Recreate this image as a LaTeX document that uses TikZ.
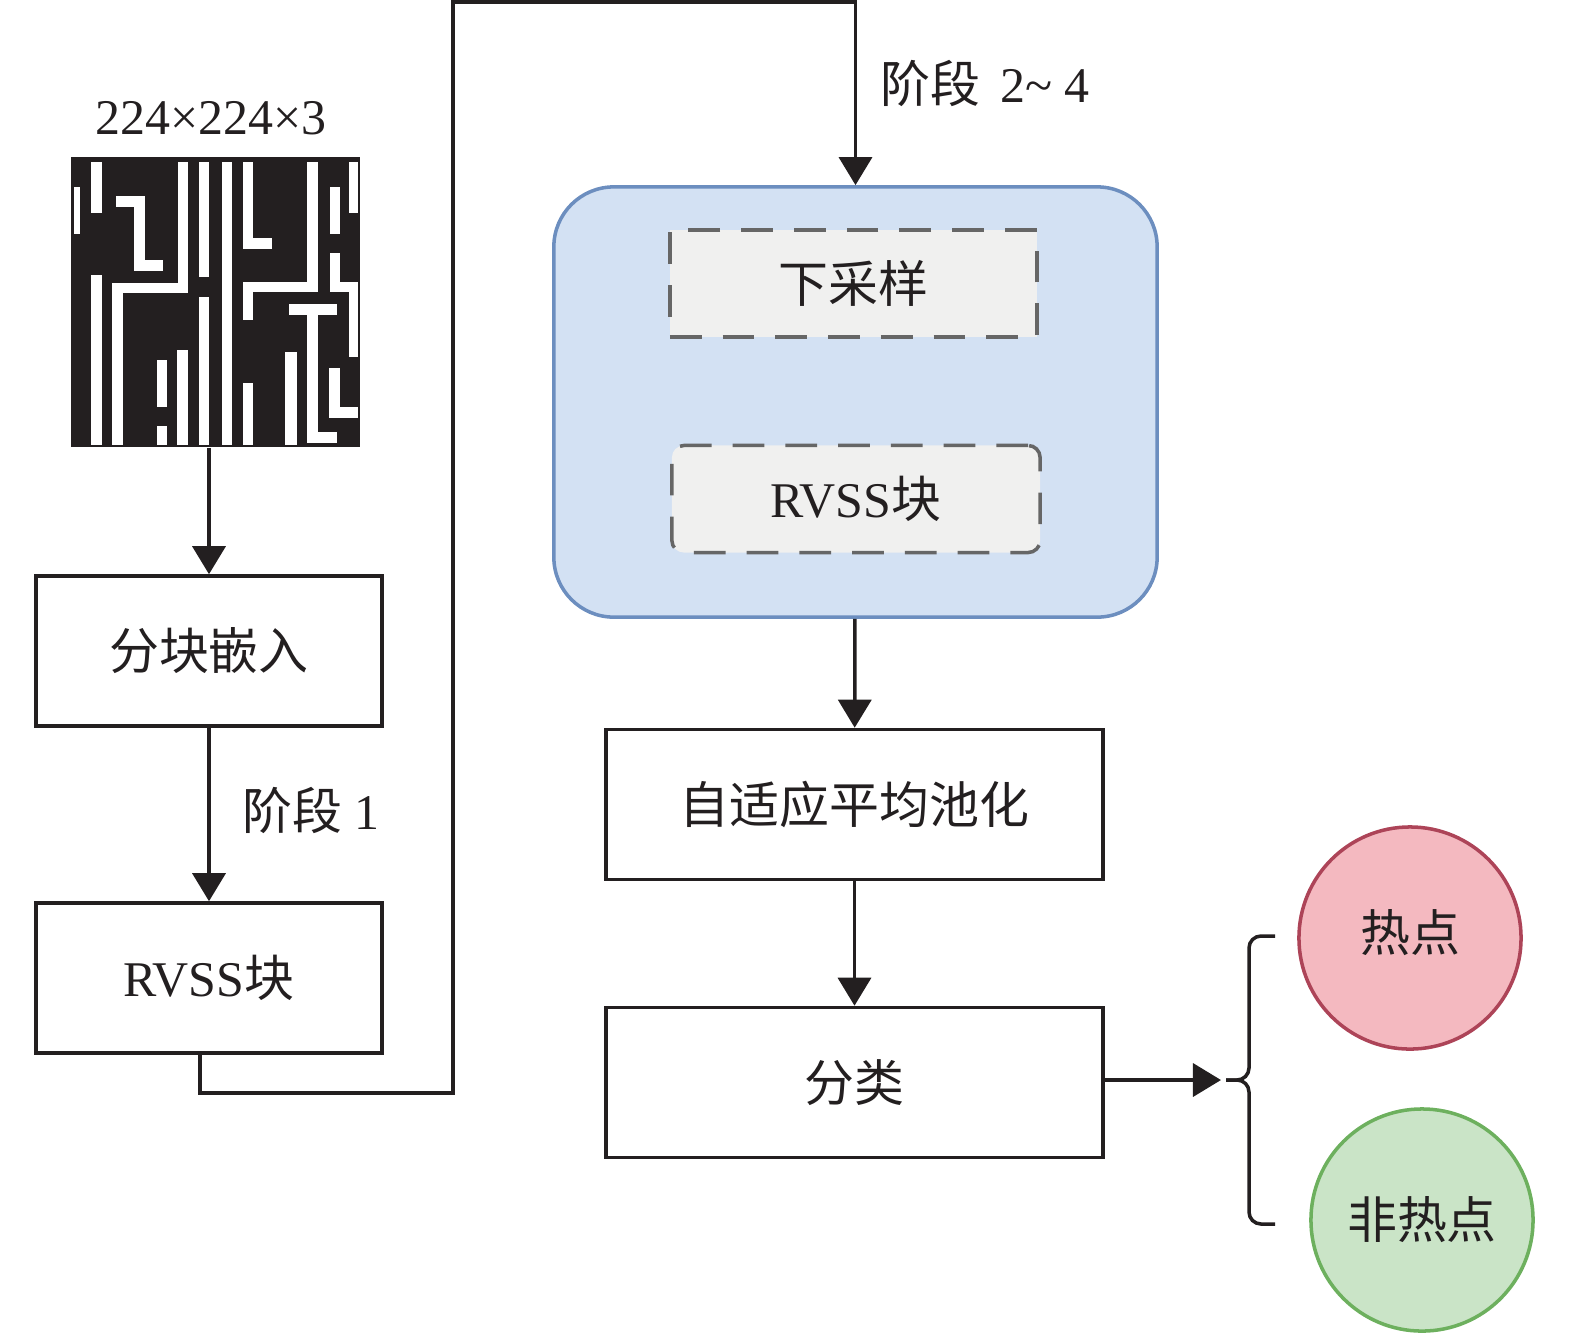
\documentclass[tikz,border=0pt]{standalone}
\usepackage{fontspec}
\setmainfont{Liberation Serif}
\newfontfamily\cjk{Noto Sans CJK SC}
\usepackage{tikz}
\usetikzlibrary{arrows.meta}
\definecolor{ink}{HTML}{231F20}
\definecolor{stagefill}{HTML}{D3E1F3}
\definecolor{stagedraw}{HTML}{6C8EBF}
\definecolor{subfill}{HTML}{F0F0EF}
\definecolor{subdraw}{HTML}{666666}
\definecolor{hotfill}{HTML}{F4B9C0}
\definecolor{hotdraw}{HTML}{AD4458}
\definecolor{coldfill}{HTML}{CAE4C7}
\definecolor{colddraw}{HTML}{6DB05E}
\newcommand{\wire}[4]{ \fill[white] ( #1 , #2 ) rectangle ( #3 , #4 );}
\newcommand{\blockbox}[5]{ \node[shape=rectangle,draw=ink,line width=1pt,fill=white,inner sep=0pt,minimum width=#4,minimum height=1.5cm] (#1) at ( #2 , #3 ) {#5};}
\newcommand{\subbox}[6]{ \node[shape=rectangle,draw=subdraw,fill=subfill,line width=1pt,dash pattern=on 9pt off 6pt,inner sep=0pt,rounded corners=#5,minimum width=#4,minimum height=1.07cm] (#1) at ( #2 , #3 ) {#6};}
\newcommand{\labelnode}[5]{\node[shape=circle,draw=#2,fill=#3,line width=1pt,inner sep=0pt,minimum size=2.22cm] (#1) at #4 {#5};}
\tikzset{link/.style={draw=ink,line width=1pt,-{Triangle[length=0.28cm,width=0.33cm]}}}

\begin{document}
\begin{tikzpicture}[x=0.01cm,y=-0.01cm,font=\fontsize{14.2pt}{17pt}\selectfont,text=ink]
    \useasboundingbox (0,0) rectangle (1575,1338);

    \node[shape=rectangle,fill=ink,inner sep=0pt,minimum width=2.89cm,minimum height=2.90cm] (layout) at (215.5,302) {};
    \wire{74}{187}{80}{234}
    \wire{91}{162}{102}{213}
    \wire{116}{196}{145}{207}
    \wire{134}{196}{145}{271}
    \wire{134}{260}{163}{271}
    \wire{91}{275}{102}{445}
    \wire{178}{162}{188}{293}
    \wire{112}{283}{188}{293}
    \wire{112}{283}{123}{445}
    \wire{199}{162}{209}{277}
    \wire{199}{297}{209}{445}
    \wire{222}{162}{232}{445}
    \wire{243}{162}{253}{249}
    \wire{243}{238}{272}{249}
    \wire{307}{162}{318}{292}
    \wire{243}{282}{318}{292}
    \wire{243}{282}{253}{320}
    \wire{330}{253}{340}{292}
    \wire{330}{282}{358}{292}
    \wire{349}{282}{358}{357}
    \wire{330}{187}{340}{234}
    \wire{349}{162}{358}{213}
    \wire{289}{304}{337}{315}
    \wire{307}{304}{318}{443}
    \wire{307}{432}{337}{443}
    \wire{285}{352}{297}{445}
    \wire{243}{383}{253}{445}
    \wire{329}{368}{340}{418}
    \wire{329}{407}{358}{418}
    \wire{157}{360}{167}{407}
    \wire{157}{426}{167}{445}
    \wire{177}{350}{188}{445}
    \node (size) at (211,118) {224×224×3};

    \blockbox{embed}{209}{651}{3.46cm}{\cjk 分块嵌入}
    \blockbox{stage1}{209}{978}{3.46cm}{RVSS{\cjk 块}}
    \node[anchor=west] (lab1) at (230,810) {{\cjk 阶段}\ 1};

    \node[shape=rectangle,draw=stagedraw,fill=stagefill,line width=1pt,rounded corners=0.6cm,inner sep=0pt,minimum width=6.03cm,minimum height=4.30cm] (stages) at (855.5,402) {};
    \subbox{down}{853.5}{283.5}{3.67cm}{0pt}{\cjk 下采样}
    \subbox{rvss}{856}{499}{3.68cm}{0.12cm}{RVSS{\cjk 块}}
    \node[anchor=west] (lab24) at (868,83) {{\cjk 阶段}\hspace{0.4em}2\textasciitilde\hspace{0.25em}4};

    \blockbox{pool}{854.5}{804.5}{4.97cm}{\cjk 自适应平均池化}
    \blockbox{cls}{854.5}{1082.5}{4.97cm}{\cjk 分类}

    \labelnode{hot}{hotdraw}{hotfill}{(1410,938)}{\raisebox{0.15cm}{\cjk 热点}}
    \labelnode{cold}{colddraw}{coldfill}{(1422,1220)}{\cjk 非热点}
    \coordinate (brace) at (1226,1080);
    \draw[ink,line width=1pt,rounded corners=0.12cm] (1275,936) -- (1249,936) -- (1249,1080) -- (brace);
    \draw[ink,line width=1pt,rounded corners=0.12cm] (brace) -- (1249,1080) -- (1249,1224) -- (1275,1224);

    \coordinate (loopB) at (453,1093);
    \coordinate (loopT) at (453,2);
    \draw[link] (layout.south -| embed.north) -- (embed.north);
    \draw[link] (embed) -- (stage1);
    \draw[link] ([xshift=-0.09cm]stage1.south) |- (loopB) -- (loopT) -| (stages.north);
    \draw[link] (stages) -- (pool);
    \draw[link] (pool) -- (cls);
    \draw[link] (cls.east |- brace) -- ([xshift=-0.05cm]brace);
\end{tikzpicture}
\end{document}
